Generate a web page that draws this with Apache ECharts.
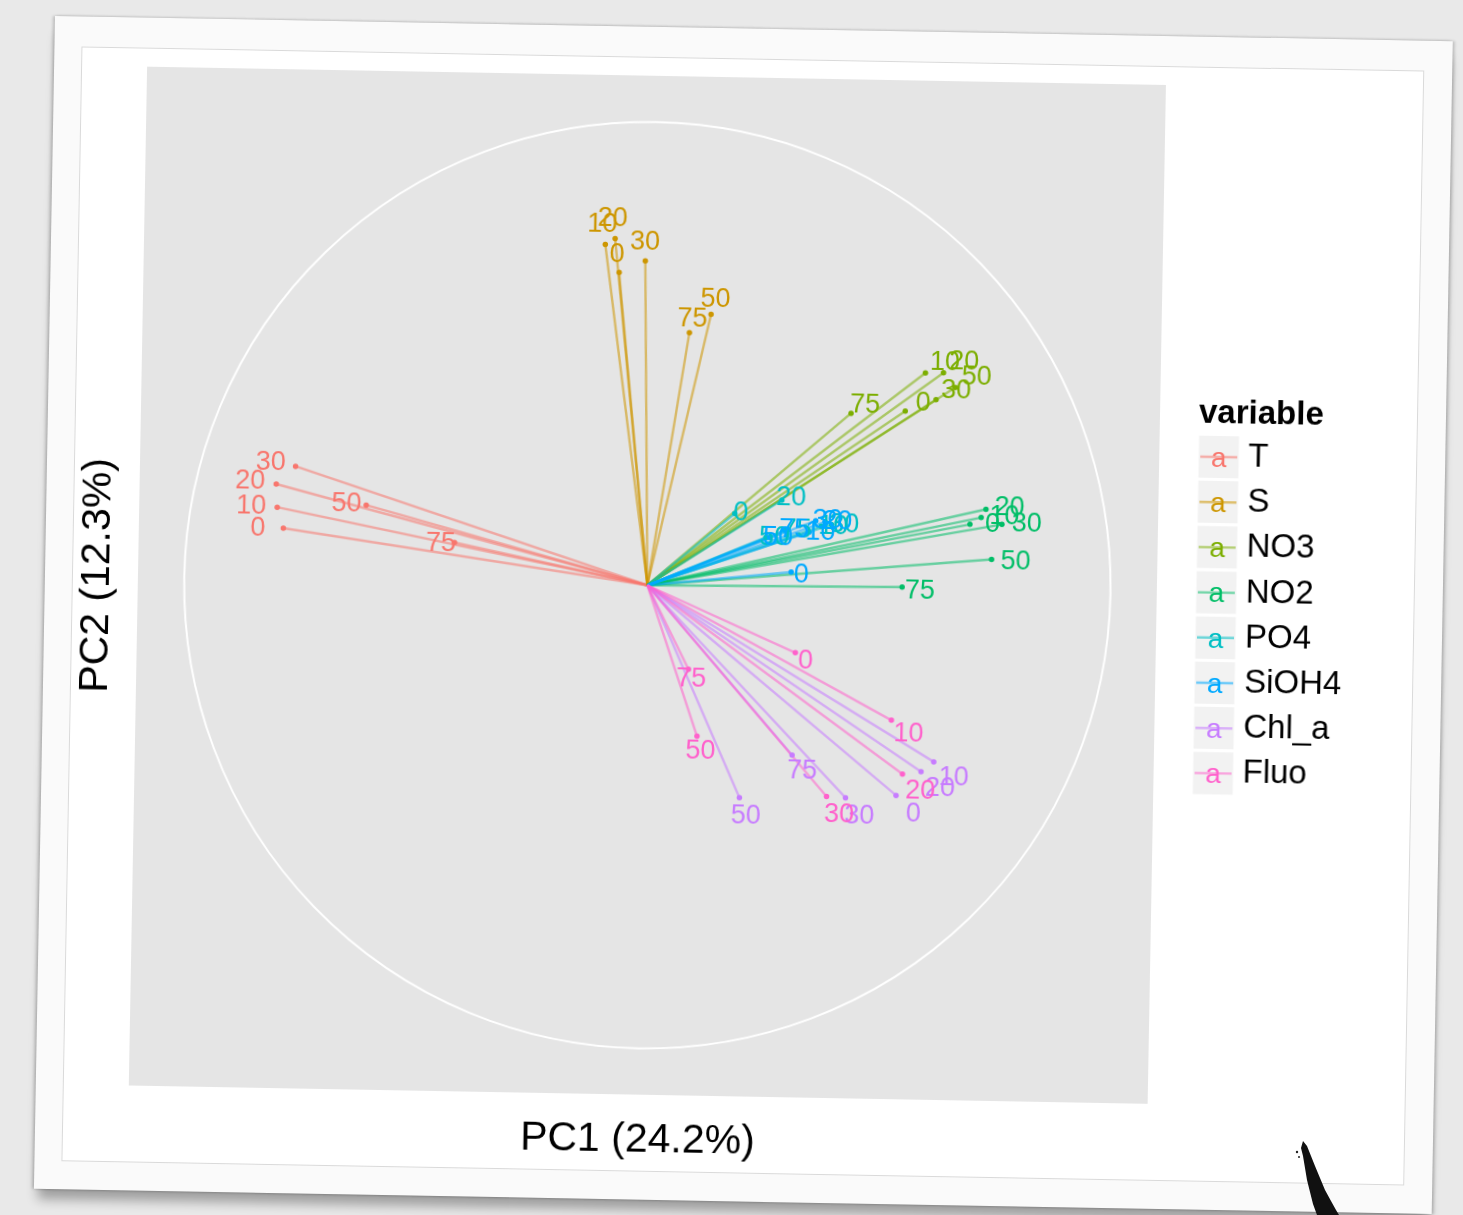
<!DOCTYPE html>
<html>
<head>
<meta charset="utf-8">
<title>PCA correlation circle</title>
<script src="https://cdn.jsdelivr.net/npm/echarts@6/dist/echarts.min.js"></script>
<style>
  html, body { margin: 0; padding: 0; width: 1463px; height: 1215px; overflow: hidden; background: #e9e9e9; }
  #card {
    position: absolute; left: 55px; top: 16px; width: 1398px; height: 1173px;
    background: #fafafa;
    transform: rotate(1.03deg); transform-origin: 0 0;
    box-shadow: 0 14px 12px -4px rgba(0,0,0,0.32), -2px 0 3px rgba(0,0,0,0.18), 2px 0 3px rgba(0,0,0,0.18);
  }
  #inner {
    position: absolute; left: 27px; top: 30px; width: 1343px; height: 1115px;
    background: #ffffff; border: 1px solid #dadada; box-sizing: border-box;
  }
  #chart { position: absolute; left: 0; top: 0; width: 1398px; height: 1173px; }
  #ink { position: absolute; left: 0; top: 0; width: 1463px; height: 1215px; pointer-events: none; }
</style>
</head>
<body>
<div id="card">
  <div id="inner"></div>
  <div id="chart"></div>
</div>
<svg id="ink" viewBox="0 0 1463 1215">
  <polygon fill="#111" points="1303,1141 1307,1146 1311,1156 1315,1166 1320,1178 1325,1190 1331,1201 1336,1210 1339,1215 1317,1215 1313,1204 1310,1192 1307,1180 1305,1168 1303,1156 1301,1148"/>
  <circle cx="1297" cy="1152" r="1.2" fill="#222"/>
  <circle cx="1299" cy="1157" r="1" fill="#222"/>
</svg>
<script>
// Variables and sampling depths (m)
const variables = ['T', 'S', 'NO3', 'NO2', 'PO4', 'SiOH4', 'Chl_a', 'Fluo'];
const depths = [0, 10, 20, 30, 50, 75];
const colors = ['#F8766D', '#CD9600', '#7CAE00', '#00BE67', '#00BFC4', '#00A9FF', '#C77CFF', '#FF61CC'];

// Loadings on PC1 / PC2, one value per depth (same order as depths)
const T_PC1 = [-0.788, -0.802, -0.805, -0.764, -0.610, -0.418];
const T_PC2 = [0.109, 0.154, 0.204, 0.243, 0.162, 0.085];
const S_PC1 = [-0.073, -0.104, -0.083, -0.017, 0.127, 0.081];
const S_PC2 = [0.674, 0.734, 0.747, 0.700, 0.587, 0.547];
const NO3_PC1 = [0.550, 0.592, 0.631, 0.616, 0.657, 0.433];
const NO3_PC2 = [0.386, 0.469, 0.470, 0.412, 0.439, 0.379];
const NO2_PC1 = [0.694, 0.718, 0.728, 0.763, 0.742, 0.550];
const NO2_PC2 = [0.144, 0.159, 0.177, 0.145, 0.069, 0.006];
const PO4_PC1 = [0.186, 0.373, 0.287, 0.395, 0.254, 0.299];
const PO4_PC2 = [0.158, 0.134, 0.189, 0.138, 0.108, 0.124];
const SiOH4_PC1 = [0.310, 0.347, 0.381, 0.361, 0.262, 0.294];
const SiOH4_PC2 = [0.034, 0.121, 0.144, 0.146, 0.108, 0.124];
const Chl_a_PC1 = [0.545, 0.625, 0.598, 0.436, 0.207, 0.319];
const Chl_a_PC2 = [-0.444, -0.370, -0.392, -0.451, -0.455, -0.361];
const Fluo_PC1 = [0.322, 0.532, 0.558, 0.395, 0.113, 0.092];
const Fluo_PC2 = [-0.140, -0.282, -0.398, -0.449, -0.324, -0.180];

const PC1 = [T_PC1, S_PC1, NO3_PC1, NO2_PC1, PO4_PC1, SiOH4_PC1, Chl_a_PC1, Fluo_PC1];
const PC2 = [T_PC2, S_PC2, NO3_PC2, NO2_PC2, PO4_PC2, SiOH4_PC2, Chl_a_PC2, Fluo_PC2];

// Unit correlation circle [x, y, radius]
const circle = [[0, 0, 1]];

const axisTitles = ['PC1 (24.2%)', 'PC2 (12.3%)'];
const legendTitle = 'variable';

const FONT = '"Liberation Sans", Arial, Helvetica, sans-serif';
const LABEL_PUSH = 1.07;   // depth labels sit slightly beyond the arrow tip

const chart = echarts.init(document.getElementById('chart'), null, { renderer: 'canvas' });

const series = [{
  type: 'custom',
  data: circle,
  silent: true,
  z: 1,
  renderItem: function (params, api) {
    const c = api.coord([api.value(0), api.value(1)]);
    const r = api.size([api.value(2), 0])[0];
    return {
      type: 'circle',
      shape: { cx: c[0], cy: c[1], r: r },
      style: { fill: 'none', stroke: '#ffffff', lineWidth: 2 }
    };
  }
}];

variables.forEach(function (name, i) {
  const xs = PC1[i], ys = PC2[i], col = colors[i];
  series.push({
    name: name,
    type: 'lines',
    coordinateSystem: 'cartesian2d',
    silent: true,
    z: 2,
    data: depths.map(function (d, j) { return { coords: [[0, 0], [xs[j], ys[j]]] }; }),
    lineStyle: { color: col, width: 2.4, opacity: 0.55 }
  });
});
variables.forEach(function (name, i) {
  const xs = PC1[i], ys = PC2[i], col = colors[i];
  series.push({
    name: name,
    type: 'scatter',
    silent: true,
    z: 3,
    symbol: 'circle',
    symbolSize: 5.5,
    itemStyle: { color: col, opacity: 1 },
    data: depths.map(function (d, j) { return [xs[j], ys[j]]; })
  });
});
variables.forEach(function (name, i) {
  const xs = PC1[i], ys = PC2[i], col = colors[i];
  series.push({
    name: name + ' depth',
    type: 'scatter',
    silent: true,
    z: 4,
    symbol: 'circle',
    symbolSize: 2,
    itemStyle: { color: 'rgba(0,0,0,0)' },
    label: {
      show: true,
      position: [1, 5],
      formatter: function (p) { return String(p.value[2]); },
      color: col,
      opacity: 1,
      fontSize: 27,
      fontFamily: FONT,
      align: 'center',
      verticalAlign: 'middle'
    },
    labelLayout: { hideOverlap: false },
    data: depths.map(function (d, j) { return [xs[j] * LABEL_PUSH, ys[j] * LABEL_PUSH, d]; })
  });
});

// Legend: grey keys with a line and an "a", as drawn for text + segment layers
const KEY_X = 1150, KEY_W = 43, KEY_Y0 = 420, KEY_STEP = 45.2;
const graphic = [{
  type: 'text',
  x: 1151, y: 377,
  style: {
    text: legendTitle, fill: '#000', fontSize: 33, fontWeight: 'bold', fontFamily: FONT,
    align: 'left', verticalAlign: 'middle'
  }
}];
variables.forEach(function (name, i) {
  const cy = KEY_Y0 + i * KEY_STEP;
  graphic.push({
    type: 'rect',
    shape: { x: KEY_X, y: cy - KEY_STEP / 2, width: KEY_W, height: KEY_STEP },
    style: { fill: '#f2f2f2', stroke: '#ffffff', lineWidth: 3 }
  });
  graphic.push({
    type: 'line',
    shape: { x1: KEY_X + 3, y1: cy, x2: KEY_X + KEY_W - 3, y2: cy },
    style: { stroke: colors[i], lineWidth: 2.4, opacity: 0.55 }
  });
  graphic.push({
    type: 'text',
    x: KEY_X + KEY_W / 2, y: cy + 2,
    style: {
      text: 'a', fill: colors[i], fontSize: 28, fontFamily: FONT,
      align: 'center', verticalAlign: 'middle'
    }
  });
  graphic.push({
    type: 'text',
    x: 1201, y: cy,
    style: {
      text: name, fill: '#000', fontSize: 33, fontFamily: FONT,
      align: 'left', verticalAlign: 'middle'
    }
  });
});

chart.setOption({
  animation: false,
  backgroundColor: 'transparent',
  grid: {
    left: 93, top: 49, width: 1019, height: 1019,
    show: true, backgroundColor: '#e5e5e5', borderWidth: 0
  },
  xAxis: {
    type: 'value', min: -1.1, max: 1.1,
    name: axisTitles[0], nameLocation: 'middle', nameGap: 25,
    nameTextStyle: { fontSize: 41, color: '#000', fontFamily: FONT },
    axisLine: { show: false }, axisTick: { show: false }, axisLabel: { show: false }, splitLine: { show: false }
  },
  yAxis: {
    type: 'value', min: -1.1, max: 1.1,
    name: axisTitles[1], nameLocation: 'middle', nameGap: 20,
    nameTextStyle: { fontSize: 41, color: '#000', fontFamily: FONT },
    axisLine: { show: false }, axisTick: { show: false }, axisLabel: { show: false }, splitLine: { show: false }
  },
  graphic: graphic,
  series: series
});
</script>
</body>
</html>
